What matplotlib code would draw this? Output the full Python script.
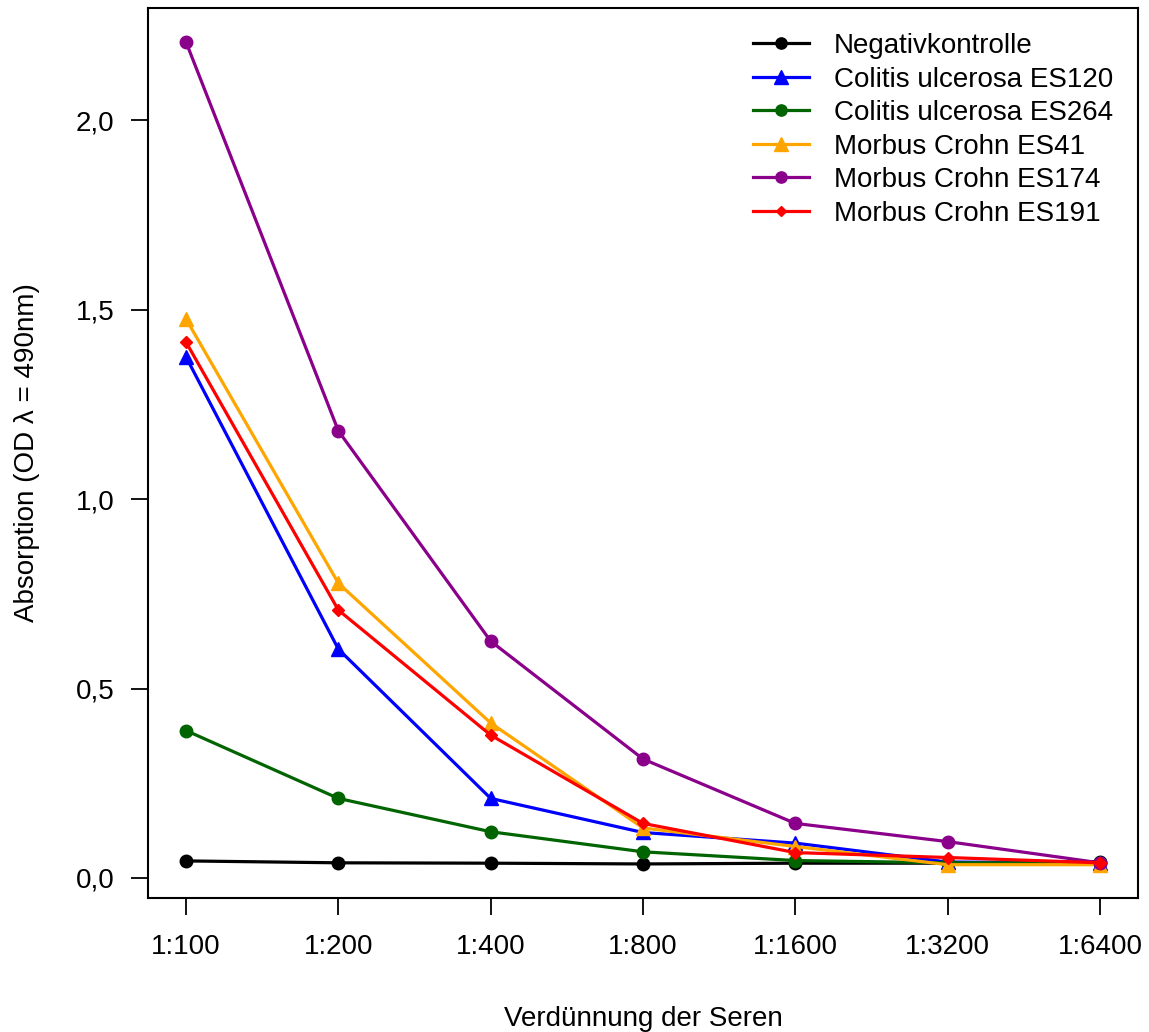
import matplotlib
matplotlib.use("Agg")
import matplotlib.pyplot as plt

plt.rcParams['font.family'] = ['Liberation Sans', 'DejaVu Sans']

# Verdünnungsstufen
verduennung = ["1:100", "1:200", "1:400", "1:800", "1:1600", "1:3200", "1:6400"]

# Messwerte (OD 490nm)
negativ = [0.045, 0.040, 0.039, 0.037, 0.039, 0.039, 0.043]
cu_es120 = [1.375, 0.604, 0.210, 0.120, 0.092, 0.042, 0.040]
cu_es264 = [0.389, 0.210, 0.122, 0.069, 0.046, 0.040, 0.040]
mc_es41 = [1.475, 0.778, 0.409, 0.132, 0.083, 0.035, 0.035]
mc_es174 = [2.206, 1.180, 0.625, 0.314, 0.144, 0.096, 0.040]
mc_es191 = [1.414, 0.707, 0.377, 0.144, 0.067, 0.054, 0.040]

serien = [
    ("Negativkontrolle", negativ, "black", "o", 9),
    ("Colitis ulcerosa ES120", cu_es120, "blue", "^", 10.5),
    ("Colitis ulcerosa ES264", cu_es264, "darkgreen", "o", 9),
    ("Morbus Crohn ES41", mc_es41, "orange", "^", 10.5),
    ("Morbus Crohn ES174", mc_es174, "darkmagenta", "o", 9),
    ("Morbus Crohn ES191", mc_es191, "red", "D", 6),
]

fig = plt.figure(figsize=(11.49, 10.32), dpi=100)
ax = fig.add_axes([0.1288, 0.1298, 0.8616, 0.8624])

x = list(range(len(verduennung)))
for name, werte, farbe, marker, ms in serien:
    ax.plot(x, werte, color=farbe, marker=marker, markersize=ms, linewidth=2.3, label=name)

ax.set_xlim(-0.25, 6.25)
ax.set_ylim(-0.053, 2.296)
ax.set_xticks(x)
ax.set_xticklabels(verduennung)
ax.set_yticks([0, 0.5, 1.0, 1.5, 2.0])
ax.set_yticklabels(["0,0", "0,5", "1,0", "1,5", "2,0"])
ax.tick_params(labelsize=20, length=12, width=1.3, pad=12)
ax.tick_params(axis="x", pad=14)
for s in ax.spines.values():
    s.set_linewidth(1.5)

ax.set_xlabel("Verdünnung der Seren", fontsize=20, labelpad=33)
ax.set_ylabel("Absorption (OD λ = 490nm)", fontsize=20, labelpad=26)

ax.legend(loc="upper right", frameon=False, fontsize=20, handlelength=2.0,
          handletextpad=0.9, labelspacing=0.27, borderaxespad=0.5, markerscale=0.9)

fig.savefig("out.png", dpi=100)
